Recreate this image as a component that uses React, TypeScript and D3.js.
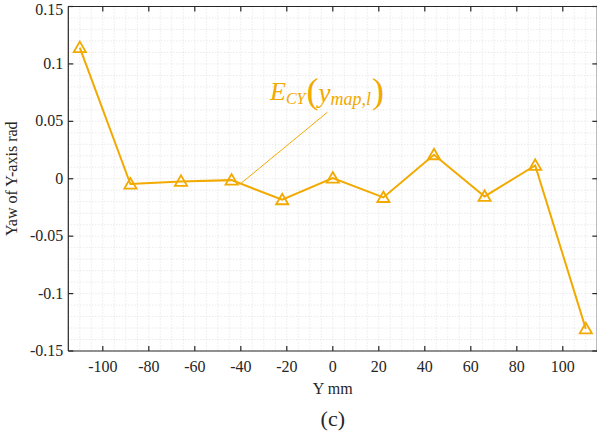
import React from "react";
import * as d3 from "d3";

const xValues = [-110, -88, -66, -44, -22, 0, 22, 44, 66, 88, 110];
const yawValues = [0.1142, -0.0046, -0.0023, -0.0012, -0.0183, 0.0006, -0.0163, 0.0209, -0.0154, 0.0116, -0.1307];
const xTicks = [-100, -80, -60, -40, -20, 0, 20, 40, 60, 80, 100];
const yTicks = [0.15, 0.1, 0.05, 0, -0.05, -0.1, -0.15];
const yTickLabels = ["0.15", "0.1", "0.05", "0", "-0.05", "-0.1", "-0.15"];

const W = 597, H = 439;
const M = { left: 68.3, top: 6.5, right: 598, bottom: 351 };
const COLOR = "#f2a900";
const FONT = "Liberation Serif, Times New Roman, Times, DejaVu Serif, serif";

export default function App() {
  const x = d3.scaleLinear().domain([-115, 115]).range([M.left, M.left + 230 * 2.3]);
  const y = d3.scaleLinear().domain([-0.15, 0.15]).range([M.bottom, M.top]);
  const minorX = d3.range(-115, 116, 5);
  const minorY = d3.range(-0.15, 0.1501, 0.01);
  const line = d3.line<number>().x((_, i) => x(xValues[i])).y((d) => y(d));
  const tri = d3.symbol().type(d3.symbolTriangle).size(64)();
  const x0 = M.left, x1 = M.right;
  return (
    <svg width={W} height={H} style={{ position: "absolute", left: 0, top: 0, fontFamily: FONT }}>
      <rect x={0} y={0} width={W} height={H} fill="#fff" />
      <g stroke="#d9d9d9" strokeWidth={0.8} strokeDasharray="1,2">
        {minorX.map((v) => (
          <line key={"gx" + v} x1={x(v)} x2={x(v)} y1={M.top} y2={M.bottom} />
        ))}
        {minorY.map((v, i) => (
          <line key={"gy" + i} x1={x0} x2={x1} y1={y(v)} y2={y(v)} />
        ))}
      </g>
      <g stroke="#262626" strokeWidth={1.2} fill="none">
        <line x1={x0} x2={x1} y1={M.top} y2={M.top} />
        <line x1={x0} x2={x1} y1={M.bottom} y2={M.bottom} />
        <line x1={x0} x2={x0} y1={M.top} y2={M.bottom} />
        <line x1={x(115)} x2={x(115)} y1={M.top} y2={M.bottom} />
        {xTicks.map((v) => (
          <g key={"xt" + v}>
            <line x1={x(v)} x2={x(v)} y1={M.bottom} y2={M.bottom - 5} />
            <line x1={x(v)} x2={x(v)} y1={M.top} y2={M.top + 5} />
          </g>
        ))}
        {yTicks.map((v) => (
          <g key={"yt" + v}>
            <line x1={x0} x2={x0 + 5} y1={y(v)} y2={y(v)} />
            <line x1={x(115)} x2={x(115) - 5} y1={y(v)} y2={y(v)} />
          </g>
        ))}
      </g>
      <g fill="#262626" fontSize={16} style={{ fontFamily: FONT }}>
        {xTicks.map((v) => (
          <text key={"xl" + v} x={x(v)} y={M.bottom + 21} textAnchor="middle">
            {v}
          </text>
        ))}
        {yTicks.map((v, i) => (
          <text key={"yl" + v} x={x0 - 5} y={Math.max(y(v) + 5, 14.5)} textAnchor="end">
            {yTickLabels[i]}
          </text>
        ))}
        <text x={x(0)} y={394} textAnchor="middle" fontSize={16}>Y mm</text>
        <text transform={`translate(17,${(M.top + M.bottom) / 2}) rotate(-90)`} textAnchor="middle" fontSize={16}>
          Yaw of Y-axis rad
        </text>
        <text x={x(0)} y={426} textAnchor="middle" fontSize={22}>(c)</text>
      </g>
      <path d={line(yawValues) || ""} fill="none" stroke={COLOR} strokeWidth={2} />
      {yawValues.map((v, i) => (
        <path key={"m" + i} d={tri} transform={`translate(${x(xValues[i])},${y(v) + 1})`} fill="none" stroke={COLOR} strokeWidth={1.8} />
      ))}
      <line x1={x(-40.6)} x2={x(-2.3)} y1={y(-0.0051)} y2={y(0.058)} stroke={COLOR} strokeWidth={1} />
      <text x={270} y={100} fill={COLOR} style={{ fontFamily: FONT }} fontStyle="italic">
        <tspan fontSize={26}>E</tspan>
        <tspan fontSize={16} dy={4}>CY</tspan>
        <tspan fontSize={36} fontStyle="normal" dy={-1} dx={1}>(</tspan>
        <tspan fontSize={27} dy={-1}>y</tspan>
        <tspan fontSize={18} dy={3}>map,l</tspan>
        <tspan fontSize={36} fontStyle="normal" dy={-2} dx={1}>)</tspan>
      </text>
    </svg>
  );
}
